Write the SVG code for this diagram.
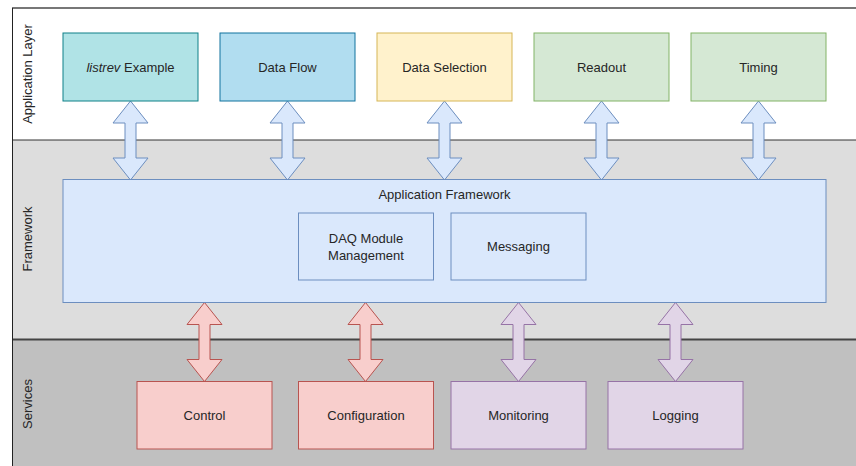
<svg xmlns="http://www.w3.org/2000/svg" xmlns:xlink="http://www.w3.org/1999/xlink" width="856" height="466" viewBox="0 0 856 466">
<style>
text{font-family:"Liberation Sans",Arial,sans-serif;font-size:13px;fill:#262626;text-anchor:middle}
.box{stroke-width:1}
.teal{fill:#b0e3e6;stroke:#0e8088}
.blue{fill:#b1ddf0;stroke:#10739e}
.yellow{fill:#fff2cc;stroke:#d6b656}
.green{fill:#d5e8d4;stroke:#82b366}
.fw{fill:#dae8fc;stroke:#6c8ebf}
.red{fill:#f8cecc;stroke:#b85450}
.purple{fill:#e1d5e7;stroke:#9673a6}
</style>
<defs>
<path id="dbl" d="M0,0 L17.5,22 L5.5,22 L5.5,57 L17.5,57 L0,79 L-17.5,57 L-5.5,57 L-5.5,22 L-17.5,22 Z"/>
</defs>
<g id="lanes">
<rect x="12" y="8" width="844" height="132" fill="#ffffff"/>
<rect x="12" y="140" width="844" height="199.5" fill="#dddddd"/>
<rect x="12" y="339.5" width="844" height="126.5" fill="#c0c0c0"/>
<line x1="12" y1="8" x2="856" y2="8" stroke="#777" stroke-width="2"/>
<line x1="12" y1="140" x2="856" y2="140" stroke="#333" stroke-width="1"/>
<line x1="12" y1="339.5" x2="856" y2="339.5" stroke="#444" stroke-width="2"/>
<line x1="12.5" y1="8" x2="12.5" y2="466" stroke="#222" stroke-width="1"/>
<text transform="translate(32,74) rotate(-90)">Application Layer</text>
<text transform="translate(32,239) rotate(-90)">Framework</text>
<text transform="translate(32,404) rotate(-90)">Services</text>
</g>
<g id="connectors" class="box">
<use href="#dbl" x="130.5" y="101" class="fw"/>
<use href="#dbl" x="287.5" y="101" class="fw"/>
<use href="#dbl" x="444.5" y="101" class="fw"/>
<use href="#dbl" x="601.5" y="101" class="fw"/>
<use href="#dbl" x="758.5" y="101" class="fw"/>
<use href="#dbl" x="204.5" y="302.5" class="red"/>
<use href="#dbl" x="365.5" y="302.5" class="red"/>
<use href="#dbl" x="518.5" y="302.5" class="purple"/>
<use href="#dbl" x="675.5" y="302.5" class="purple"/>
</g>
<g id="listrev"><rect class="box teal" x="63" y="33" width="135" height="68"/><text x="130.5" y="71.5"><tspan font-style="italic">listrev</tspan> Example</text></g>
<g id="dataflow"><rect class="box blue" x="220" y="33" width="135" height="68"/><text x="287.5" y="71.5">Data Flow</text></g>
<g id="dataselection"><rect class="box yellow" x="377" y="33" width="135" height="68"/><text x="444.5" y="71.5">Data Selection</text></g>
<g id="readout"><rect class="box green" x="534" y="33" width="135" height="68"/><text x="601.5" y="71.5">Readout</text></g>
<g id="timing"><rect class="box green" x="691" y="33" width="135" height="68"/><text x="758.5" y="71.5">Timing</text></g>
<g id="appframework"><rect class="box fw" x="63" y="179.5" width="763" height="123"/><text x="444.5" y="199">Application Framework</text></g>
<g id="daqmodule"><rect class="box fw" x="298.5" y="213" width="135" height="67"/><text x="366" y="243">DAQ Module</text><text x="366" y="259.5">Management</text></g>
<g id="messaging"><rect class="box fw" x="451" y="213" width="135" height="67"/><text x="518.5" y="251">Messaging</text></g>
<g id="control"><rect class="box red" x="137" y="381.5" width="135" height="67.5"/><text x="204.5" y="419.5">Control</text></g>
<g id="configuration"><rect class="box red" x="298.5" y="381.5" width="135" height="67.5"/><text x="366" y="419.5">Configuration</text></g>
<g id="monitoring"><rect class="box purple" x="451" y="381.5" width="135" height="67.5"/><text x="518.5" y="419.5">Monitoring</text></g>
<g id="logging"><rect class="box purple" x="608" y="381.5" width="135" height="67.5"/><text x="675.5" y="419.5">Logging</text></g>
</svg>
